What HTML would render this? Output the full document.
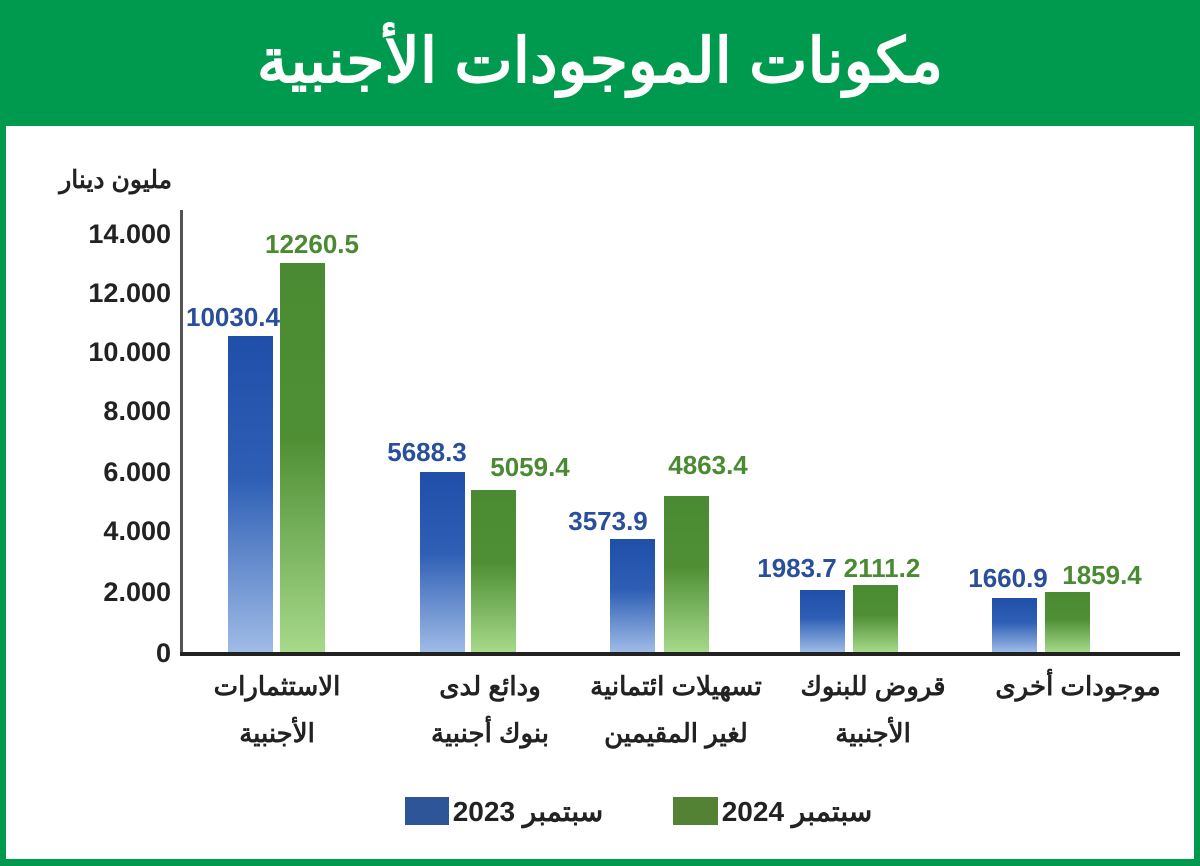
<!DOCTYPE html>
<html><head><meta charset="utf-8"><style>
html,body{margin:0;padding:0;background:#fff}
svg{display:block}
text{font-family:"Liberation Sans","Noto Sans CJK SC",sans-serif;font-weight:bold}
</style></head><body>
<svg width="1200" height="866" viewBox="0 0 1200 866">
<defs>
<linearGradient id="gb" x1="0" y1="0" x2="0" y2="1"><stop offset="0" stop-color="#1f4fa8"/><stop offset="0.45" stop-color="#2e5fb5"/><stop offset="1" stop-color="#9fbbe6"/></linearGradient>
<linearGradient id="gg" x1="0" y1="0" x2="0" y2="1"><stop offset="0" stop-color="#4a8a32"/><stop offset="0.45" stop-color="#4f8f34"/><stop offset="1" stop-color="#a6d98a"/></linearGradient>
</defs>
<rect x="0" y="0" width="1200" height="866" fill="#009a4e"/>
<rect x="6" y="126" width="1188" height="733" fill="#fff"/>
<text x="600" y="82" text-anchor="middle" font-size="62" fill="#fff" direction="rtl">مكونات الموجودات الأجنبية</text>
<text x="172" y="188" text-anchor="start" font-size="25" fill="#222" direction="rtl">مليون دينار</text>
<g font-size="27" fill="#222" text-anchor="end">
<text x="171" y="243">14.000</text><text x="171" y="302">12.000</text><text x="171" y="361">10.000</text>
<text x="171" y="420">8.000</text><text x="171" y="481">6.000</text><text x="171" y="540">4.000</text>
<text x="171" y="601">2.000</text><text x="171" y="662">0</text>
</g>
<rect x="180" y="210" width="3" height="445" fill="#555"/>
<rect x="180" y="652" width="1000" height="4" fill="#222"/>
<g fill="url(#gb)">
<rect x="228" y="336" width="45" height="316"/><rect x="420" y="472" width="45" height="180"/>
<rect x="610" y="539" width="45" height="113"/><rect x="800" y="590" width="45" height="62"/>
<rect x="992" y="598" width="45" height="54"/>
</g>
<g fill="url(#gg)">
<rect x="280" y="263" width="45" height="389"/><rect x="471" y="490" width="45" height="162"/>
<rect x="664" y="496" width="45" height="156"/><rect x="853" y="585" width="45" height="67"/>
<rect x="1045" y="592" width="45" height="60"/>
</g>
<g font-size="26" text-anchor="middle">
<text x="233" y="326" fill="#2a4f9a">10030.4</text><text x="312" y="253" fill="#4a8a32">12260.5</text>
<text x="427" y="461" fill="#2a4f9a">5688.3</text><text x="530" y="476" fill="#4a8a32">5059.4</text>
<text x="608" y="530" fill="#2a4f9a">3573.9</text><text x="708" y="474" fill="#4a8a32">4863.4</text>
<text x="797" y="577" fill="#2a4f9a">1983.7</text><text x="882" y="577" fill="#4a8a32">2111.2</text>
<text x="1008" y="587" fill="#2a4f9a">1660.9</text><text x="1102" y="584" fill="#4a8a32">1859.4</text>
</g>
<g font-size="26" fill="#222" text-anchor="middle" direction="rtl">
<text x="277" y="695">الاستثمارات</text><text x="277" y="742">الأجنبية</text>
<text x="490" y="695">ودائع لدى</text><text x="490" y="742">بنوك أجنبية</text>
<text x="676" y="695">تسهيلات ائتمانية</text><text x="676" y="742">لغير المقيمين</text>
<text x="873" y="695">قروض للبنوك</text><text x="873" y="742">الأجنبية</text>
<text x="1078" y="695">موجودات أخرى</text>
</g>
<rect x="405" y="797" width="44" height="28" fill="#2d5597"/>
<rect x="673" y="797" width="45" height="28" fill="#548235"/>
<g font-size="28" fill="#222" text-anchor="middle" direction="rtl">
<text x="528" y="821">سبتمبر 2023</text>
<text x="797" y="821">سبتمبر 2024</text>
</g>
</svg>
</body></html>
